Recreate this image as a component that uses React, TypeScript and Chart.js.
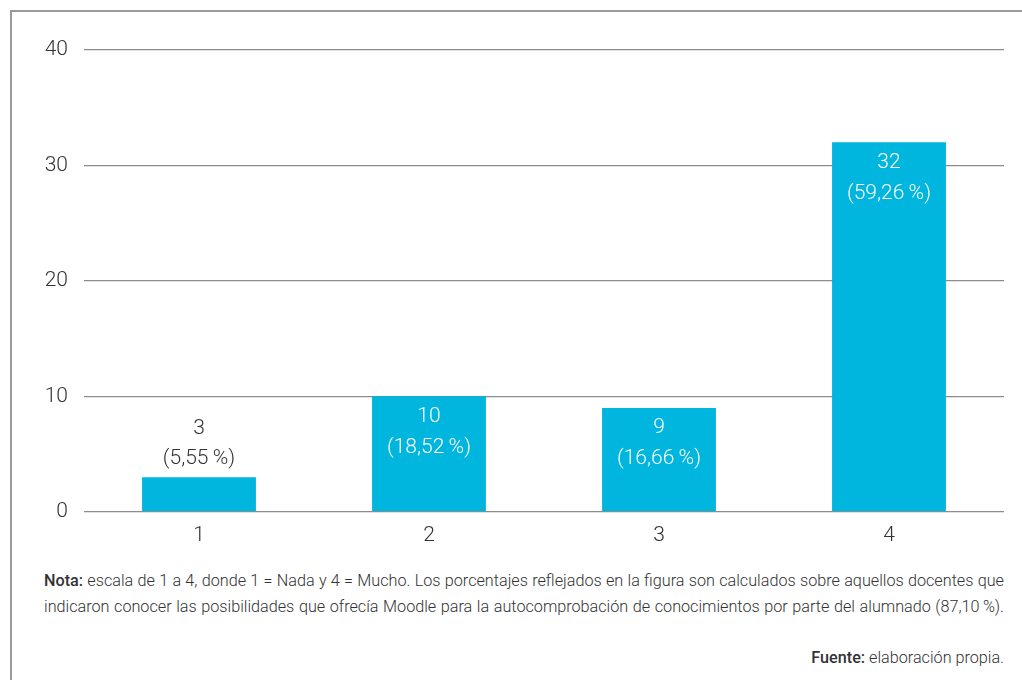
import React, { useEffect, useRef } from "react";
import { Chart, registerables } from "chart.js";

Chart.register(...registerables);

const categories = ["1", "2", "3", "4"];
const counts = [3, 10, 9, 32];
const percents = ["5,55", "18,52", "16,66", "59,26"];
const yTicks = [0, 10, 20, 30, 40];

const FONT = "Roboto, 'Liberation Sans', sans-serif";
const BAR = "#00B5DE";
const TEXT = "#333333";

const labelPlugin = {
  id: "barLabels",
  afterDatasetsDraw(chart: any) {
    const { ctx } = chart;
    const meta = chart.getDatasetMeta(0);
    ctx.save();
    ctx.font = `300 21px ${FONT}`;
    ctx.textAlign = "center";
    ctx.textBaseline = "middle";
    meta.data.forEach((bar: any, i: number) => {
      const v = counts[i];
      const l1 = String(v);
      const l2 = `(${percents[i]}\u2009%)`;
      const height = bar.base - bar.y;
      if (height > 60) {
        ctx.fillStyle = "#ffffff";
        ctx.fillText(l1, bar.x, bar.y + 20);
        ctx.fillText(l2, bar.x, bar.y + 51);
      } else {
        ctx.fillStyle = TEXT;
        ctx.fillText(l1, bar.x, bar.y - 48);
        ctx.fillText(l2, bar.x, bar.y - 18);
      }
    });
    ctx.restore();
  },
};

function BarChart() {
  const ref = useRef<HTMLCanvasElement>(null);
  useEffect(() => {
    if (!ref.current) return;
    const chart = new Chart(ref.current, {
      type: "bar",
      data: {
        labels: categories,
        datasets: [
          {
            data: counts,
            backgroundColor: BAR,
            barPercentage: 0.5,
            categoryPercentage: 0.99,
          },
        ],
      },
      options: {
        animation: false,
        responsive: false,
        maintainAspectRatio: false,
        layout: { padding: { left: 0, right: 18, top: 50, bottom: 12 } },
        plugins: { legend: { display: false }, tooltip: { enabled: false } },
        scales: {
          x: {
            grid: { display: false, drawTicks: false },
            border: { display: false },
            ticks: {
              color: TEXT,
              font: { family: FONT, size: 21, weight: "300" as any },
              padding: 11,
            },
          },
          y: {
            min: 0,
            max: 40,
            afterFit: (s: any) => {
              s.width = 84;
            },
            afterBuildTicks: (s: any) => {
              s.ticks = yTicks.map((v) => ({ value: v }));
            },
            grid: { color: "#8c8c8c", lineWidth: 1.3, drawTicks: false },
            border: { display: false },
            ticks: {
              color: TEXT,
              font: { family: FONT, size: 21, weight: "300" as any },
              padding: 16,
            },
          },
        },
      },
      plugins: [labelPlugin],
    });
    return () => chart.destroy();
  }, []);
  return (
    <canvas
      ref={ref}
      width={1022}
      height={571}
      style={{ position: "absolute", left: 0, top: 0, width: 1022, height: 571 }}
    />
  );
}

export default function App() {
  const noteStyle: React.CSSProperties = {
    position: "absolute",
    left: 44,
    width: 960,
    fontFamily: FONT,
    fontWeight: 300,
    fontSize: 16.2,
    color: TEXT,
    textAlign: "justify",
    textAlignLast: "justify" as any,
    whiteSpace: "nowrap",
    lineHeight: "20px",
  };
  return (
    <div
      style={{
        position: "fixed",
        left: 0,
        top: 0,
        width: 1022,
        height: 680,
        overflow: "hidden",
        background: "#fff",
      }}
    >
      <div
        style={{
          position: "absolute",
          left: 10,
          top: 10,
          width: 1200,
          height: 1000,
          border: "2px solid #9a9a9a",
          boxSizing: "border-box",
        }}
      />
      <BarChart />
      <div style={{ ...noteStyle, top: 571 }}>
        <b style={{ fontWeight: 500 }}>Nota:</b> escala de 1 a 4, donde 1 = Nada y 4 = Mucho. Los porcentajes reflejados en la figura son calculados sobre aquellos docentes que
      </div>
      <div style={{ ...noteStyle, top: 597 }}>
        indicaron conocer las posibilidades que ofrecía Moodle para la autocomprobación de conocimientos por parte del alumnado (87,10{"\u2009"}%).
      </div>
      <div
        style={{
          position: "absolute",
          right: 18,
          top: 648,
          fontFamily: FONT,
          fontWeight: 300,
          fontSize: 16.2,
          color: TEXT,
          lineHeight: "20px",
          whiteSpace: "nowrap",
        }}
      >
        <b style={{ fontWeight: 500 }}>Fuente:</b> elaboración propia.
      </div>
    </div>
  );
}
